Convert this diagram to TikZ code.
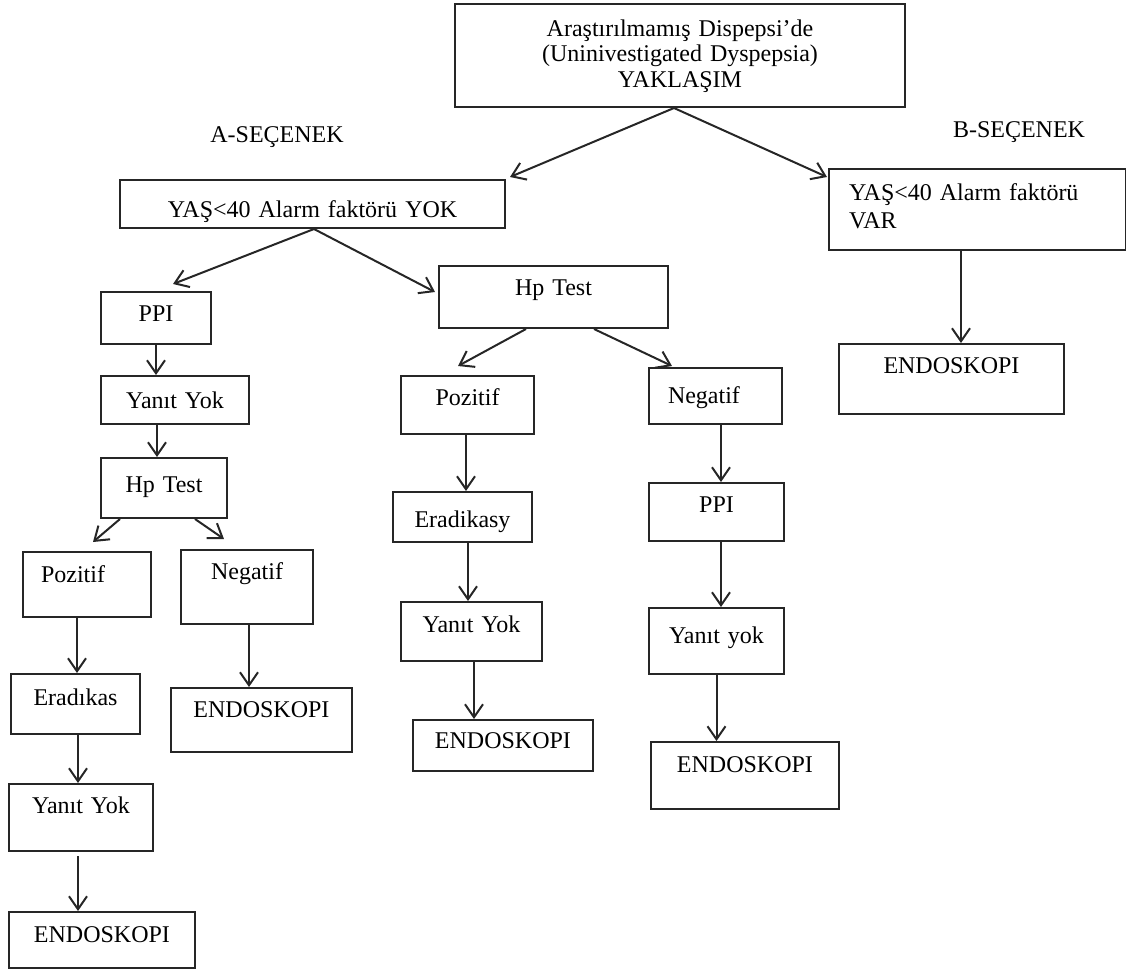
\documentclass[tikz,border=0pt]{standalone}
\usepackage{fontspec}
\setmainfont{Liberation Serif}
\usepackage{tikz}
\usetikzlibrary{arrows.meta, positioning}

\tikzset{
    kutu/.style n args={3}{draw=black!85, line width=1pt, inner sep=0pt, anchor=base west,
        align=center, text width=#1, text height=#2, text depth=#3,
        font=\fontsize{12}{14}\selectfont, text=black},
    soldan/.style={align=left, inner xsep=#1},
    baslik/.style={anchor=base, font=\fontsize{12}{14}\selectfont, text=black},
    ok/.style={-{Straight Barb[length=6.5pt,width=9pt]}, line width=1pt, draw=black!85}
}

\begin{document}
\begin{tikzpicture}[x=0.5pt, y=-0.5pt]
    \useasboundingbox (0, 0) rectangle (1126, 971);

    % ust kutu
    \node[kutu={225pt}{16pt}{35.5pt}, font=\fontsize{12}{12.75}\selectfont] (ust) at (454, 36)
        {Araştırılmamış Dispepsi'de\\(Uninivestigated Dyspepsia)\\YAKLAŞIM};

    % secenekler
    \node[baslik] (asec) at (277, 142) {A-SEÇENEK};
    \node[baslik] (bsec) at (1019, 137) {B-SEÇENEK};
    \node[kutu={192.5pt}{18.5pt}{5.5pt}] (yasyok) at (119, 217) {YAŞ<40 Alarm faktörü YOK};
    \node[kutu={128.5pt}{15.5pt}{25pt}, soldan=10pt] (yasvar) at (828, 200) {YAŞ<40 Alarm faktörü\\VAR};
    \node[kutu={112.5pt}{14.5pt}{20.5pt}] (bendo) at (838, 373) {ENDOSKOPI};

    % sol kol
    \node[kutu={55pt}{14.5pt}{11.5pt}] (sppi) at (100, 321) {PPI};
    \node[kutu={74pt}{16pt}{8pt}] (syanit) at (100, 408) {Yanıt Yok};
    \node[kutu={63pt}{17pt}{13pt}] (shp) at (100, 492) {Hp Test};
    \node[kutu={46pt}{15pt}{17.5pt}, soldan=9pt] (spoz) at (22, 582) {Pozitif};
    \node[kutu={66pt}{14.5pt}{22.5pt}] (sneg) at (180, 579) {Negatif};
    \node[kutu={64.5pt}{15.5pt}{14.5pt}] (serad) at (10, 705) {Eradıkas};
    \node[kutu={72pt}{14.5pt}{19pt}] (syanit2) at (8, 813) {Yanıt Yok};
    \node[kutu={93pt}{15pt}{13pt}] (sendo) at (8, 942) {ENDOSKOPI};
    \node[kutu={90.5pt}{14.5pt}{17.5pt}] (nendo) at (170, 717) {ENDOSKOPI};

    % orta kol
    \node[kutu={114.5pt}{14.5pt}{16.5pt}] (mhp) at (438, 295) {Hp Test};
    \node[kutu={66.5pt}{14.5pt}{14.5pt}] (mpoz) at (400, 405) {Pozitif};
    \node[kutu={47.5pt}{17.5pt}{10.5pt}, soldan=9.5pt] (mneg) at (648, 403) {Negatif};
    \node[kutu={69.5pt}{17.5pt}{7.5pt}] (merad) at (392, 527) {Eradikasy};
    \node[kutu={70.5pt}{15pt}{14.5pt}] (myanit) at (400, 632) {Yanıt Yok};
    \node[kutu={90pt}{14pt}{11.5pt}] (mendo) at (412, 748) {ENDOSKOPI};
    \node[kutu={67.5pt}{14.5pt}{14.5pt}] (rppi) at (648, 512) {PPI};
    \node[kutu={67.5pt}{17.5pt}{15.5pt}] (ryanit) at (648, 643) {Yanıt yok};
    \node[kutu={94pt}{15pt}{18.5pt}] (rendo) at (650, 772) {ENDOSKOPI};

    % oklar
    \draw[ok] ([xshift=-3pt]ust.south) -- ([xshift=2pt, yshift=1pt]yasyok.north east);
    \draw[ok] ([xshift=-3pt]ust.south) -- ([xshift=-0.5pt, yshift=-4.5pt]yasvar.north west);
    \draw[ok] ([xshift=-8.25pt]yasvar.south) -- ([xshift=-8.25pt]yasvar.south |- bendo.north);

    \draw[ok] ([xshift=0.75pt]yasyok.south) -- ([xshift=8.5pt, yshift=3.5pt]sppi.north);
    \draw[ok] ([xshift=0.75pt]yasyok.south) -- ([xshift=-1.5pt, yshift=2.5pt]mhp.west);

    \draw[ok] (sppi.south) -- (sppi.south |- syanit.north);
    \draw[ok] ([xshift=-9pt]syanit.south) -- ([xshift=-9pt]syanit.south |- shp.north);
    \draw[ok] ([xshift=10pt]shp.south west) -- ([xshift=3pt, yshift=4.5pt]spoz.north);
    \draw[ok] ([xshift=-16.5pt]shp.south east) -- ([xshift=-11.5pt, yshift=5pt]sneg.north);
    \draw[ok] ([xshift=-5pt]spoz.south) -- ([xshift=-5pt]spoz.south |- serad.north);
    \draw[ok] ([xshift=1.25pt]serad.south) -- ([xshift=1.25pt]serad.south |- syanit2.north);
    \draw[ok] ([xshift=-1.5pt, yshift=-2pt]syanit2.south) -- ([xshift=-1.5pt]syanit2.south |- sendo.north);
    \draw[ok] ([xshift=1pt]sneg.south) -- ([xshift=1pt]sneg.south |- nendo.north);

    \draw[ok] ([xshift=-13.75pt]mhp.south) -- ([xshift=-4.75pt, yshift=4.5pt]mpoz.north);
    \draw[ok] ([xshift=20.25pt]mhp.south) -- ([xshift=12pt, yshift=0.5pt]mneg.north west);
    \draw[ok] ([xshift=-0.75pt]mpoz.south) -- ([xshift=-0.75pt]mpoz.south |- merad.north);
    \draw[ok] ([xshift=2.75pt]merad.south) -- ([xshift=2.75pt]merad.south |- myanit.north);
    \draw[ok] ([xshift=1.25pt]myanit.south) -- ([xshift=1.25pt]myanit.south |- mendo.north);
    \draw[ok] ([xshift=2.75pt]mneg.south) -- ([xshift=2.75pt]mneg.south |- rppi.north);
    \draw[ok] ([xshift=2.25pt]rppi.south) -- ([xshift=2.25pt]rppi.south |- ryanit.north);
    \draw[ok] (ryanit.south) -- (ryanit.south |- rendo.north);
\end{tikzpicture}
\end{document}
